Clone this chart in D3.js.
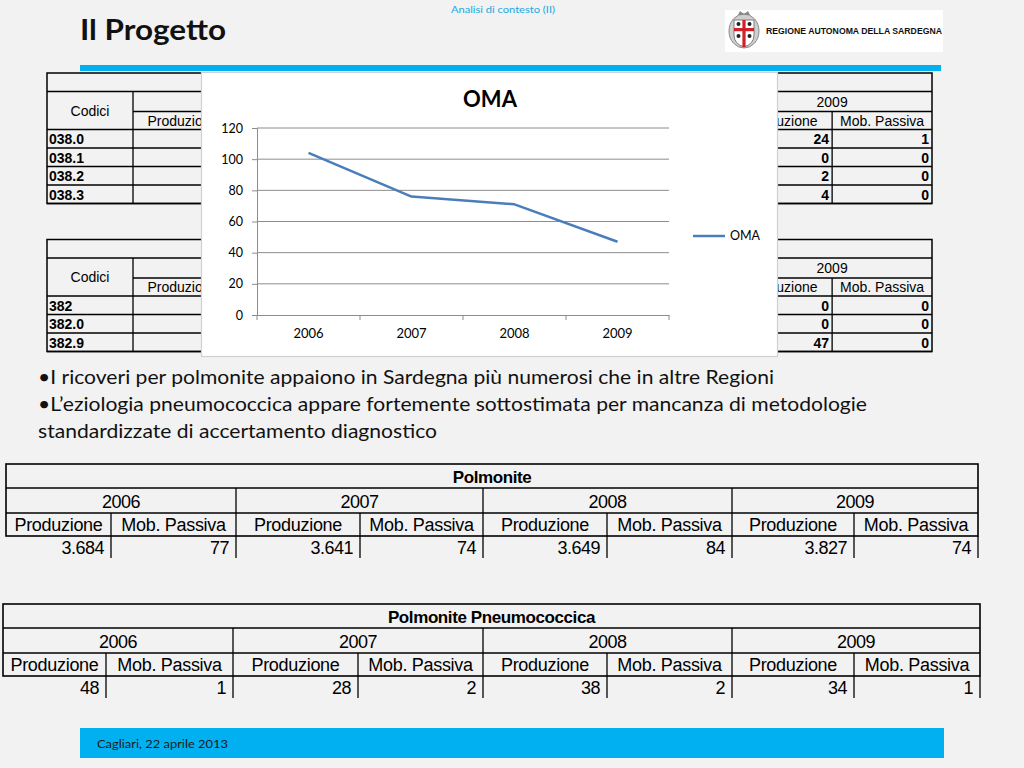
<!DOCTYPE html>
<html>
<head>
<meta charset="utf-8">
<script src="https://cdn.jsdelivr.net/npm/d3@7"></script>
<style>
  html, body { margin: 0; padding: 0; background: #f2f2f2; }
  svg { display: block; }
</style>
</head>
<body>
<svg id="slide" width="1024" height="768"></svg>
<script>
// ---------------- DATA ----------------
const years = ["2006", "2007", "2008", "2009"];
const omaValues = [104, 76, 71, 47];
const yTicks = [0, 20, 40, 60, 80, 100, 120];
const seriesName = "OMA";

const codes038 = ["038.0", "038.1", "038.2", "038.3"];
const prod2009_038 = [24, 0, 2, 4];
const mob2009_038 = [1, 0, 0, 0];

const codes382 = ["382", "382.0", "382.9"];
const prod2009_382 = [0, 0, 47];
const mob2009_382 = [0, 0, 0];

const polmProd = ["3.684", "3.641", "3.649", "3.827"];
const polmMob = ["77", "74", "84", "74"];
const pneuProd = ["48", "28", "38", "34"];
const pneuMob = ["1", "2", "2", "1"];

const subHeads = ["Produzione", "Mob. Passiva"];
const bullets = [
  "\u2022I ricoveri per polmonite appaiono in Sardegna più numerosi che in altre Regioni",
  "\u2022L\u2019eziologia pneumococcica appare fortemente sottostimata per mancanza di metodologie",
  "standardizzate di accertamento diagnostico"
];

// ---------------- LAYOUT ----------------
const svg = d3.select("#slide");
const BLUE = "#00b0f0";
const ARIAL = "'Liberation Sans', Arial, sans-serif";
const CAL = "Lato, 'Open Sans', sans-serif";

const defs = svg.append("defs");
defs.append("clipPath").attr("id", "leftClip").append("rect").attr("x", 133).attr("y", 60).attr("width", 68).attr("height", 300);
defs.append("clipPath").attr("id", "rightClip").append("rect").attr("x", 778).attr("y", 60).attr("width", 60).attr("height", 300);

// header
svg.append("text").attr("x", 80).attr("y", 40)
  .attr("font-family", CAL).attr("font-weight", 700).attr("font-size", 28)
  .attr("textLength", 146).attr("lengthAdjust", "spacingAndGlyphs")
  .attr("fill", "#111").text("Il Progetto");
svg.append("text").attr("x", 503).attr("y", 13).attr("text-anchor", "middle")
  .attr("font-family", CAL).attr("font-size", 9.5).attr("fill", "#1aa7e0")
  .attr("textLength", 104).attr("lengthAdjust", "spacingAndGlyphs")
  .text("Analisi di contesto (II)");

// logo
const logo = svg.append("g");
logo.append("rect").attr("x", 725).attr("y", 10).attr("width", 218).attr("height", 42).attr("fill", "#fff");
const crest = logo.append("g").attr("transform", "translate(744,31)");
crest.append("ellipse").attr("rx", 15).attr("ry", 17).attr("fill", "#cfcfcf").attr("stroke", "#8a8a8a").attr("stroke-width", 1);
crest.append("path").attr("d", "M-10,-11 L10,-11 L10,4 Q10,13 0,16 Q-10,13 -10,4 Z").attr("fill", "#fff").attr("stroke", "#666").attr("stroke-width", 0.8);
crest.append("rect").attr("x", -1.6).attr("y", -11).attr("width", 3.2).attr("height", 27).attr("fill", "#d0202a");
crest.append("rect").attr("x", -10).attr("y", -3).attr("width", 20).attr("height", 3.2).attr("fill", "#d0202a");
[[-5.5, -7], [5.5, -7], [-5.5, 5], [5.5, 5]].forEach(p => {
  crest.append("circle").attr("cx", p[0]).attr("cy", p[1]).attr("r", 2).attr("fill", "#222");
});
crest.append("path").attr("d", "M-6,-16 L-4,-20 L0,-17 L4,-20 L6,-16 Z").attr("fill", "#888");
logo.append("text").attr("x", 766).attr("y", 34).attr("font-family", ARIAL).attr("font-weight", 700)
  .attr("font-size", 8.5).attr("fill", "#111").attr("textLength", 176).attr("lengthAdjust", "spacingAndGlyphs")
  .text("REGIONE AUTONOMA DELLA SARDEGNA");

// blue rule
svg.append("rect").attr("x", 80).attr("y", 65).attr("width", 861).attr("height", 6).attr("fill", BLUE);

// ---------------- TOP TABLES (behind chart) ----------------
function line(g, x1, y1, x2, y2, w) {
  g.append("line").attr("x1", x1).attr("y1", y1).attr("x2", x2).attr("y2", y2)
    .attr("stroke", "#000").attr("stroke-width", w || 1.3);
}
function txt(g, x, y, s, opt) {
  opt = opt || {};
  return g.append("text").attr("x", x).attr("y", y).text(s)
    .attr("font-family", ARIAL).attr("font-size", opt.size || 14)
    .attr("font-weight", opt.weight || 400).attr("text-anchor", opt.anchor || "start")
    .attr("fill", "#000");
}

function topTable(top, codes, prod, mob) {
  const g = svg.append("g");
  const L = 47, R = 932, C = 133;
  const colEdges = d3.range(9).map(i => C + i * (R - C) / 8);
  const titleB = top + 18.5, subL = titleB + 20, headB = subL + 18;
  const rowY = d3.scaleBand().domain(codes).range([headB, headB + 18.5 * codes.length]);
  const bottom = headB + 18.5 * codes.length;
  g.append("rect").attr("x", L).attr("y", top).attr("width", R - L).attr("height", bottom - top)
    .attr("fill", "#f2f2f2").attr("stroke", "#000").attr("stroke-width", 1.5);
  line(g, L, titleB, R, titleB);
  line(g, C, subL, R, subL);
  line(g, L, headB, R, headB);
  codes.forEach(c => line(g, L, rowY(c) + rowY.bandwidth(), R, rowY(c) + rowY.bandwidth()));
  line(g, C, titleB, C, bottom);
  line(g, colEdges[7], subL, colEdges[7], bottom);
  txt(g, (L + C) / 2, (titleB + headB) / 2 + 5, "Codici", { anchor: "middle" });
  // only the parts not hidden by the chart
  txt(g, colEdges[7], subL - 5, years[3], { anchor: "middle" });
  txt(g, (colEdges[0] + colEdges[1]) / 2, headB - 4, subHeads[0], { anchor: "middle" }).attr("clip-path", "url(#leftClip)");
  txt(g, (colEdges[6] + colEdges[7]) / 2, headB - 4, subHeads[0], { anchor: "middle" }).attr("clip-path", "url(#rightClip)");
  txt(g, (colEdges[7] + colEdges[8]) / 2, headB - 4, subHeads[1], { anchor: "middle" });
  codes.forEach((c, i) => {
    const yy = rowY(c) + rowY.bandwidth() - 4;
    txt(g, L + 2, yy, c, { weight: 700 });
    txt(g, colEdges[7] - 3, yy, prod[i], { weight: 700, anchor: "end" });
    txt(g, colEdges[8] - 3, yy, mob[i], { weight: 700, anchor: "end" });
  });
}
topTable(73, codes038, prod2009_038, mob2009_038);
topTable(239.5, codes382, prod2009_382, mob2009_382);

// ---------------- CHART ----------------
const chart = svg.append("g");
chart.append("rect").attr("x", 201.5).attr("y", 72.5).attr("width", 576).attr("height", 284)
  .attr("fill", "#fff").attr("stroke", "#d0d0d0").attr("stroke-width", 1.2);
chart.append("text").attr("x", 490).attr("y", 107).attr("text-anchor", "middle")
  .attr("font-family", CAL).attr("font-weight", 700).attr("font-size", 22).attr("fill", "#000")
  .text(seriesName);

const x = d3.scaleBand().domain(years).range([257, 669]).padding(0);
const y = d3.scaleLinear().domain([0, 120]).range([315, 128]);

// gridlines
chart.append("g").selectAll("line").data(yTicks.filter(t => t > 0)).join("line")
  .attr("x1", 257).attr("x2", 669).attr("y1", d => y(d)).attr("y2", d => y(d))
  .attr("stroke", "#8c8c8c").attr("stroke-width", 1);

// y axis
const yAxis = chart.append("g").attr("transform", "translate(257,0)")
  .call(d3.axisLeft(y).tickValues(yTicks).tickSize(5).tickPadding(9));
yAxis.select(".domain").attr("stroke", "#8c8c8c");
yAxis.selectAll(".tick line").attr("stroke", "#8c8c8c");
yAxis.selectAll("text").attr("font-family", CAL).attr("font-size", 12.5).attr("fill", "#000");

// x axis
const xAxis = chart.append("g").attr("transform", "translate(0,315)")
  .call(d3.axisBottom(x).tickSize(0).tickPadding(14));
xAxis.select(".domain").attr("stroke", "#8c8c8c");
xAxis.selectAll("text").attr("font-family", CAL).attr("font-size", 13).attr("fill", "#000");
const bounds = years.map(d => x(d)).concat([x.range()[1]]);
xAxis.append("g").selectAll("line").data(bounds).join("line")
  .attr("x1", d => d).attr("x2", d => d).attr("y1", 0).attr("y2", 5).attr("stroke", "#8c8c8c");

// line
const pts = years.map((d, i) => [x(d) + x.bandwidth() / 2, y(omaValues[i])]);
chart.append("path").datum(pts).attr("d", d3.line())
  .attr("fill", "none").attr("stroke", "#4a7ebb").attr("stroke-width", 2.5).attr("stroke-linejoin", "round");

// legend
chart.append("line").attr("x1", 693).attr("x2", 725).attr("y1", 236).attr("y2", 236)
  .attr("stroke", "#4a7ebb").attr("stroke-width", 2.5);
chart.append("text").attr("x", 730).attr("y", 240).attr("font-family", CAL).attr("font-size", 12.5)
  .attr("fill", "#000").text(seriesName);

// ---------------- BULLETS ----------------
const bulletWidths = [736, 829, 399];
bullets.forEach((b, i) => {
  svg.append("text").attr("x", 38).attr("y", 384 + i * 27)
    .attr("font-family", CAL).attr("font-size", 20).attr("fill", "#111")
    .attr("textLength", bulletWidths[i]).attr("lengthAdjust", "spacingAndGlyphs")
    .text(b);
});

// ---------------- BOTTOM TABLES ----------------
function bottomTable(top, edges, title, prod, mob) {
  const g = svg.append("g");
  const L = edges[0], R = edges[8];
  const tB = top + 24, yB = tB + 25, sB = yB + 23, dB = sB + 22;
  g.append("rect").attr("x", L).attr("y", top).attr("width", R - L).attr("height", sB - top)
    .attr("fill", "none").attr("stroke", "#000").attr("stroke-width", 1.6);
  line(g, L, tB, R, tB, 1.3);
  line(g, L, yB, R, yB, 1.3);
  edges.slice(1, 8).forEach((xx, i) => line(g, xx, (i % 2 === 1) ? tB : yB, xx, dB, 1.3));
  line(g, R, sB, R, dB, 1.3);
  g.append("text").attr("x", (L + R) / 2).attr("y", tB - 5).attr("text-anchor", "middle")
    .attr("font-family", ARIAL).attr("font-weight", 700).attr("font-size", 17).attr("letter-spacing", -0.4)
    .text(title);
  years.forEach((yr, i) => {
    txt(g, (edges[2 * i] + edges[2 * i + 2]) / 2, yB - 5, yr, { size: 18, anchor: "middle" }).attr("letter-spacing", -0.5);
    subHeads.forEach((s, j) => txt(g, (edges[2 * i + j] + edges[2 * i + j + 1]) / 2, sB - 5, s, { size: 18, anchor: "middle" }).attr("letter-spacing", -0.3));
    txt(g, edges[2 * i + 1] - 7, dB - 4, prod[i], { size: 18, anchor: "end" }).attr("letter-spacing", -0.5);
    txt(g, edges[2 * i + 2] - 7, dB - 4, mob[i], { size: 18, anchor: "end" }).attr("letter-spacing", -0.5);
  });
}
bottomTable(464, [6, 111, 236, 360, 483, 607, 732, 854, 978], "Polmonite", polmProd, polmMob);
bottomTable(604, [3, 106, 233, 358, 483, 607, 732, 854, 980], "Polmonite Pneumococcica", pneuProd, pneuMob);

// ---------------- FOOTER ----------------
svg.append("rect").attr("x", 80).attr("y", 728).attr("width", 864).attr("height", 30).attr("fill", BLUE);
svg.append("text").attr("x", 97).attr("y", 748).attr("font-family", CAL).attr("font-size", 12)
  .attr("fill", "#1a1a1a").attr("textLength", 131).attr("lengthAdjust", "spacingAndGlyphs")
  .text("Cagliari, 22 aprile 2013");
</script>
</body>
</html>
